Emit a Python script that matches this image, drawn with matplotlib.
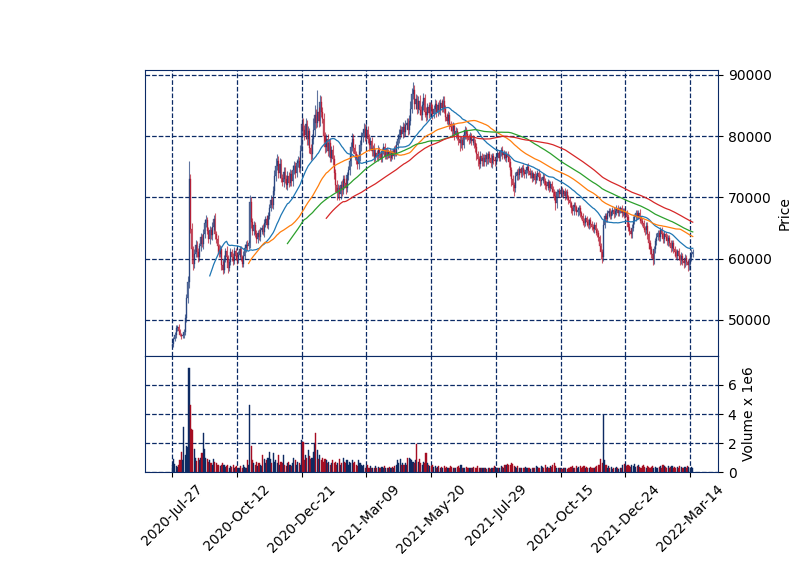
import numpy as np
import pandas as pd
import matplotlib
matplotlib.use("Agg")
import matplotlib.pyplot as plt

# daily closes, thousands of won (403 trading days from 2020-07-27)
closes_k = [
    46.0, 46.8, 47.5, 48.6, 48.9, 48.2, 47.6, 47.3, 47.5, 48.0,
    50.3, 53.5, 56.2, 73.0, 64.8, 61.5, 59.2, 60.8, 62.3, 61.0,
    60.2, 62.0, 63.5, 62.4, 64.0, 65.8, 66.3, 64.5, 63.2, 64.6,
    63.8, 65.2, 66.5, 64.0, 63.2, 62.0, 60.8, 61.5, 59.0, 58.2,
    60.0, 61.3, 60.2, 58.5, 59.4, 61.0, 60.3, 59.6, 61.2, 60.4,
    59.8, 60.6, 61.5, 60.2, 59.2, 60.5, 61.8, 62.3, 62.0, 62.5,
    69.2, 66.0, 64.5, 65.5, 64.0, 63.2, 64.2, 63.5, 64.6, 65.0,
    64.3, 65.8, 66.4, 65.5, 67.0, 68.2, 69.5, 68.8, 71.0, 73.5,
    75.2, 76.0, 74.0, 75.5, 73.2, 72.5, 74.2, 73.0, 72.0, 73.5,
    72.4, 73.8, 72.6, 74.4, 75.2, 74.0, 75.6, 76.0, 74.8, 77.5,
    82.0, 81.0, 80.2, 82.0, 79.5, 80.8, 78.0, 77.0, 79.5, 81.0,
    83.5, 82.2, 84.0, 82.5, 85.5, 84.0, 82.8, 80.0, 78.2, 79.5,
    77.5, 78.8, 76.5, 77.8, 76.2, 74.0, 72.0, 70.8, 71.5, 70.5,
    72.0, 71.2, 73.0, 72.4, 71.5, 73.6, 74.5, 76.0, 78.2, 79.5,
    78.0, 77.0, 76.2, 75.4, 76.8, 78.5, 79.8, 80.5, 81.2, 80.0,
    81.0, 79.6, 78.5, 79.2, 77.5, 78.0, 76.5, 77.2, 76.8, 77.8,
    77.0, 76.3, 77.5, 78.2, 76.8, 77.6, 76.9, 77.4, 76.5, 77.2,
    76.8, 77.9, 77.3, 78.5, 79.5, 80.2, 81.0, 80.3, 81.5, 80.6,
    81.8, 82.2, 81.0, 82.5, 84.5, 86.8, 87.5, 85.2, 86.0, 84.5,
    85.8, 84.2, 83.5, 85.0, 86.2, 84.0, 83.4, 84.8, 83.8, 85.0,
    84.5, 83.6, 84.4, 85.2, 84.0, 85.0, 84.2, 85.4, 84.6, 85.8,
    84.5, 83.2, 82.5, 83.4, 82.0, 81.5, 80.8, 81.6, 80.4, 80.9,
    80.1, 79.5, 78.8, 79.3, 78.6, 80.2, 81.0, 80.4, 79.8, 79.4,
    80.0, 79.2, 79.6, 78.8, 78.2, 77.0, 76.2, 75.5, 76.8, 76.0,
    76.5, 75.8, 76.9, 76.2, 77.0, 76.4, 75.6, 76.8, 76.1, 75.9,
    76.6, 77.3, 76.5, 77.4, 77.8, 76.9, 77.2, 76.4, 77.0, 76.6,
    75.8, 74.5, 73.0, 72.0, 71.5, 73.5, 74.2, 73.6, 74.6, 74.0,
    74.8, 74.2, 73.8, 74.5, 75.0, 74.3, 73.7, 74.0, 73.2, 73.8,
    72.8, 73.5, 74.0, 73.4, 72.6, 72.9, 73.4, 72.6, 72.0, 71.8,
    72.5, 71.6, 72.2, 71.4, 70.8, 70.2, 69.0, 70.8, 71.0, 70.6,
    71.2, 70.5, 71.0, 70.3, 70.8, 70.0, 69.6, 69.0, 68.2, 67.8,
    68.8, 68.4, 67.6, 67.9, 68.3, 67.4, 67.0, 66.2, 65.8, 66.6,
    66.0, 65.5, 66.3, 65.7, 65.2, 64.8, 65.5, 64.6, 64.2, 63.5,
    62.0, 61.0, 60.2, 65.5, 67.0, 66.5, 67.4, 67.8, 67.0, 67.6,
    68.0, 67.3, 67.7, 68.3, 67.5, 67.9, 68.2, 67.4, 67.8, 67.2,
    67.6, 66.8, 65.2, 64.5, 64.0, 65.0, 66.2, 66.8, 67.4, 67.0,
    67.5, 66.5, 66.2, 65.8, 65.0, 64.6, 65.4, 64.0, 62.5, 61.5,
    60.8, 60.0, 61.5, 62.8, 63.6, 64.2, 63.5, 64.6, 64.0, 63.2,
    64.0, 63.5, 62.8, 63.3, 62.6, 61.8, 62.5, 61.6, 61.0, 60.5,
    61.2, 60.4, 59.8, 60.5, 59.6, 59.3, 60.1, 59.5, 58.9, 59.6,
    60.2, 60.8, 61.0,
]
first_open_k = 45.8

# wick lengths above / below the candle body, hundreds of won
hi_wick = [
    3, 4, 5, 6, 3, 4, 3, 2, 4, 5,  6, 8, 10, 30, 8, 10, 6, 8, 7, 5,
    8, 6, 7, 5, 9, 6, 8, 5, 6, 7,  5, 8, 6, 9, 5, 6, 4, 7, 5, 6,
    6, 5, 7, 4, 6, 8, 5, 6, 7, 5,  5, 7, 6, 5, 4, 8, 6, 5, 7, 6,
    12, 8, 6, 7, 5, 6, 5, 7, 6, 5,  6, 7, 5, 8, 6, 7, 9, 6, 8, 10,
    12, 10, 8, 9, 7, 6, 8, 7, 6, 8,  7, 8, 6, 9, 8, 6, 7, 8, 6, 10,
    12, 9, 8, 10, 7, 8, 6, 7, 9, 20,  15, 10, 35, 8, 12, 10, 8, 9, 7, 8,
    8, 7, 9, 6, 8, 7, 6, 8, 7, 6,  7, 8, 6, 7, 8, 6, 7, 9, 8, 10,
    8, 7, 6, 8, 7, 9, 8, 7, 10, 8,  9, 7, 8, 6, 7, 6, 8, 7, 6, 7,
    5, 6, 5, 6, 7, 5, 6, 5, 6, 5,  6, 5, 6, 7, 8, 9, 8, 7, 8, 6,
    8, 7, 8, 9, 12, 10, 14, 8, 9, 7,  8, 9, 7, 8, 9, 7, 8, 6, 7, 6,
    6, 7, 6, 8, 7, 6, 9, 7, 6, 8,  7, 6, 5, 7, 6, 5, 6, 7, 5, 6,
    5, 6, 5, 7, 6, 8, 6, 5, 6, 5,  6, 5, 6, 5, 7, 6, 5, 6, 7, 5,
    5, 6, 5, 4, 6, 5, 6, 5, 4, 5,  5, 6, 5, 4, 5, 6, 5, 4, 5, 6,
    5, 6, 5, 6, 5, 6, 5, 6, 5, 4,  5, 6, 5, 4, 5, 6, 5, 4, 5, 4,
    5, 4, 5, 6, 5, 4, 5, 4, 5, 6,  5, 4, 5, 4, 5, 6, 8, 5, 4, 5,
    4, 5, 4, 5, 4, 5, 4, 5, 4, 5,  4, 5, 4, 5, 4, 5, 4, 5, 4, 5,
    4, 5, 4, 5, 4, 5, 4, 5, 4, 5,  4, 5, 6, 8, 5, 4, 5, 4, 5, 4,
    5, 4, 5, 4, 5, 6, 4, 5, 4, 5,  5, 4, 5, 6, 5, 6, 7, 5, 6, 5,
    5, 6, 5, 4, 5, 4, 5, 6, 5, 6,  5, 6, 5, 6, 5, 4, 5, 6, 5, 4,
    5, 4, 5, 6, 5, 4, 5, 6, 4, 5,  4, 5, 4, 5, 4, 5, 6, 5, 4, 5,
    6, 8, 5,
]
lo_wick = [
    3, 4, 3, 4, 5, 4, 3, 4, 3, 4,  5, 6, 8, 10, 6, 12, 10, 8, 6, 7,
    8, 6, 7, 5, 8, 6, 7, 5, 6, 8,  6, 7, 5, 8, 6, 7, 5, 6, 8, 7,
    6, 5, 7, 8, 6, 5, 7, 6, 5, 6,  6, 5, 7, 6, 5, 6, 5, 7, 6, 5,
    8, 10, 7, 6, 5, 7, 6, 5, 7, 6,  5, 7, 6, 5, 7, 6, 5, 6, 7, 6,
    8, 7, 9, 8, 7, 6, 8, 7, 6, 8,  7, 6, 8, 7, 6, 8, 7, 6, 7, 8,
    10, 9, 8, 7, 9, 10, 8, 9, 7, 8,  9, 8, 7, 10, 8, 9, 7, 8, 9, 8,
    8, 9, 7, 8, 9, 10, 12, 12, 9, 10,  8, 9, 7, 8, 9, 7, 8, 9, 8, 7,
    8, 9, 7, 8, 7, 8, 9, 8, 7, 8,  7, 8, 9, 7, 8, 7, 8, 6, 7, 8,
    6, 5, 6, 5, 6, 5, 7, 5, 6, 5,  6, 5, 6, 5, 6, 7, 6, 5, 6, 7,
    6, 7, 8, 6, 7, 8, 7, 8, 7, 9,  8, 7, 9, 8, 7, 8, 9, 7, 8, 7,
    7, 8, 6, 7, 8, 7, 6, 8, 7, 6,  7, 8, 6, 7, 8, 7, 9, 8, 10, 7,
    8, 9, 12, 7, 8, 6, 7, 8, 6, 7,  6, 7, 6, 7, 8, 9, 10, 8, 7, 9,
    8, 7, 6, 8, 7, 6, 7, 8, 6, 7,  6, 7, 6, 5, 6, 7, 6, 5, 6, 7,
    8, 10, 12, 10, 13, 7, 6, 7, 6, 7,  6, 5, 6, 7, 5, 6, 5, 6, 7, 6,
    6, 5, 6, 5, 7, 6, 5, 6, 7, 6,  6, 7, 5, 6, 7, 6, 10, 8, 7, 6,
    6, 5, 6, 7, 6, 5, 7, 6, 7, 6,  6, 7, 5, 6, 7, 6, 5, 7, 6, 5,
    6, 5, 6, 7, 6, 5, 6, 7, 6, 7,  8, 10, 9, 6, 5, 6, 5, 6, 5, 6,
    5, 6, 5, 6, 5, 6, 5, 6, 5, 6,  6, 5, 7, 6, 7, 6, 5, 6, 7, 6,
    6, 7, 6, 5, 6, 7, 6, 8, 10, 8,  7, 10, 8, 6, 5, 6, 7, 6, 5, 6,
    6, 5, 6, 7, 6, 8, 6, 7, 8, 6,  7, 6, 8, 7, 6, 8, 7, 6, 10, 8,
    7, 6, 5,
]

# daily volume, millions of shares
volume_m = [
    0.45, 0.9, 0.55, 0.4, 0.35, 0.5, 0.8, 1.4, 0.8, 3.1,
    1.2, 1.8, 1.7, 7.2, 4.6, 3.0, 2.9, 1.6, 1.0, 0.75,
    1.0, 0.8, 1.0, 1.3, 2.7, 1.6, 1.0, 0.9, 0.7, 0.8,
    0.6, 0.5, 0.9, 0.7, 0.6, 0.5, 0.45, 0.4, 0.5, 0.6,
    0.45, 0.35, 0.4, 0.5, 0.3, 0.4, 0.35, 0.45, 0.3, 0.35,
    0.4, 0.3, 0.25, 0.4, 0.3, 0.45, 0.35, 0.3, 0.8, 0.5,
    4.6, 1.8, 0.8, 0.6, 0.5, 0.7, 0.4, 0.6, 0.5, 0.4,
    1.2, 0.9, 0.6, 0.8, 1.0, 1.4, 0.9, 0.6, 1.3, 0.7,
    0.8, 0.6, 1.2, 0.5, 0.7, 0.6, 1.2, 0.5, 0.4, 0.6,
    0.7, 0.5, 0.4, 0.6, 1.0, 0.8, 0.5, 0.7, 0.6, 0.5,
    2.2, 2.1, 0.8, 1.2, 1.0, 1.5, 1.1, 0.9, 1.0, 1.4,
    2.0, 2.7, 1.5, 0.9, 1.2, 0.8, 1.0, 0.7, 0.9, 0.8,
    0.6, 0.7, 0.5, 0.6, 0.8, 0.6, 0.7, 0.5, 0.6, 0.9,
    0.5, 0.6, 1.0, 0.7, 0.6, 0.8, 0.5, 0.7, 0.6, 0.8,
    0.6, 0.7, 0.5, 0.4, 0.8, 0.6, 0.5, 0.4, 0.5, 0.3,
    0.4, 0.5, 0.3, 0.4, 0.3, 0.25, 0.3, 0.4, 0.3, 0.35,
    0.3, 0.25, 0.35, 0.3, 0.4, 0.3, 0.25, 0.3, 0.35, 0.3,
    0.35, 0.3, 0.4, 0.5, 0.8, 0.6, 0.9, 0.5, 0.6, 0.5,
    0.6, 0.5, 1.0, 1.0, 0.9, 0.8, 0.7, 0.6, 0.8, 1.9,
    0.7, 0.9, 0.6, 0.5, 0.7, 0.6, 1.3, 0.6, 0.5, 0.4,
    0.4, 0.5, 0.35, 0.4, 0.3, 0.35, 0.4, 0.3, 0.35, 0.3,
    0.4, 0.3, 0.35, 0.25, 0.3, 0.4, 0.35, 0.3, 0.25, 0.3,
    0.35, 0.4, 0.3, 0.45, 0.3, 0.25, 0.3, 0.35, 0.3, 0.25,
    0.3, 0.25, 0.3, 0.35, 0.3, 0.25, 0.4, 0.3, 0.3, 0.25,
    0.3, 0.25, 0.3, 0.2, 0.25, 0.3, 0.2, 0.25, 0.3, 0.4,
    0.35, 0.3, 0.25, 0.3, 0.4, 0.35, 0.3, 0.45, 0.5, 0.55,
    0.45, 0.5, 0.6, 0.55, 0.4, 0.35, 0.3, 0.4, 0.3, 0.25,
    0.3, 0.25, 0.3, 0.35, 0.3, 0.25, 0.3, 0.2, 0.3, 0.25,
    0.3, 0.4, 0.35, 0.3, 0.25, 0.4, 0.35, 0.3, 0.45, 0.3,
    0.35, 0.3, 0.4, 0.35, 0.45, 0.6, 0.4, 0.3, 0.25, 0.3,
    0.25, 0.2, 0.3, 0.25, 0.3, 0.2, 0.25, 0.3, 0.35, 0.4,
    0.3, 0.25, 0.4, 0.3, 0.35, 0.4, 0.3, 0.35, 0.4, 0.3,
    0.35, 0.3, 0.25, 0.35, 0.3, 0.25, 0.3, 0.35, 0.4, 0.5,
    0.5, 0.9, 0.6, 3.9, 0.8, 0.5, 0.3, 0.4, 0.25, 0.35,
    0.2, 0.3, 0.25, 0.35, 0.3, 0.2, 0.3, 0.25, 0.5, 0.55,
    0.45, 0.4, 0.5, 0.4, 0.35, 0.5, 0.4, 0.55, 0.35, 0.4,
    0.45, 0.35, 0.3, 0.4, 0.5, 0.35, 0.3, 0.4, 0.35, 0.3,
    0.35, 0.4, 0.3, 0.35, 0.25, 0.3, 0.35, 0.4, 0.3, 0.45,
    0.4, 0.35, 0.3, 0.4, 0.3, 0.35, 0.4, 0.3, 0.35, 0.25,
    0.35, 0.3, 0.4, 0.35, 0.3, 0.25, 0.35, 0.3, 0.4, 0.35,
    0.3, 0.35, 0.3,
]

tick_pos = [0, 50, 100, 150, 200, 250, 300, 350, 400]
tick_labels = ["2020-Jul-27", "2020-Oct-12", "2020-Dec-21", "2021-Mar-09",
               "2021-May-20", "2021-Jul-29", "2021-Oct-15", "2021-Dec-24",
               "2022-Mar-14"]
mav_windows = [30, 60, 90, 120]

navy = "#0b2a66"
up_col = "#1c3a78"
down_col = "#b3142c"

n = min(len(closes_k), len(hi_wick), len(lo_wick), len(volume_m))
close = np.array(closes_k[:n]) * 1000
opens = np.r_[first_open_k * 1000, close[:-1]]
top = np.maximum(opens, close)
bot = np.minimum(opens, close)
high = top + np.array(hi_wick[:n]) * 100
low = bot - np.array(lo_wick[:n]) * 100
vol = np.array(volume_m[:n])
x = np.arange(n)
rising = close >= opens
colors = np.where(rising, up_col, down_col)
vcolors = np.where(rising, "#0d2a62", "#a50d22")

fig = plt.figure(figsize=(8, 5.75), dpi=100)
ax = fig.add_axes([0.18125, 0.3809, 0.71625, 0.4974])
axv = fig.add_axes([0.18125, 0.1791, 0.71625, 0.2018], sharex=ax)

# candles
ax.vlines(x, low, high, colors=colors, linewidth=0.8, alpha=0.7)
ax.bar(x, top - bot, bottom=bot, width=0.8, color=colors, edgecolor=colors,
       linewidth=0.3, alpha=0.7)

# moving averages
s = pd.Series(close)
for w, c in zip(mav_windows, ["C0", "C1", "C2", "C3"]):
    ax.plot(x, s.rolling(w).mean(), color=c, linewidth=0.9)

axv.bar(x, vol, width=0.85, color=vcolors, edgecolor=vcolors, linewidth=0.3)

ax.set_ylim(44100, 90800)
axv.set_ylim(0, 8)
ax.set_xlim(-21, 421.5)

for a in (ax, axv):
    a.grid(True, linestyle="--", color=navy, linewidth=0.9)
    a.set_axisbelow(True)
    for sp in a.spines.values():
        sp.set_color(navy)
    a.yaxis.tick_right()
    a.yaxis.set_label_position("right")

ax.set_yticks([50000, 60000, 70000, 80000, 90000])
ax.set_ylabel("Price")
ax.tick_params(axis="x", labelbottom=False)
axv.set_yticks([0, 2, 4, 6])
axv.set_ylabel("Volume x 1e6")
axv.set_xticks(tick_pos)
axv.set_xticklabels(tick_labels, rotation=45, ha="center")

fig.savefig("out.png", dpi=100)
